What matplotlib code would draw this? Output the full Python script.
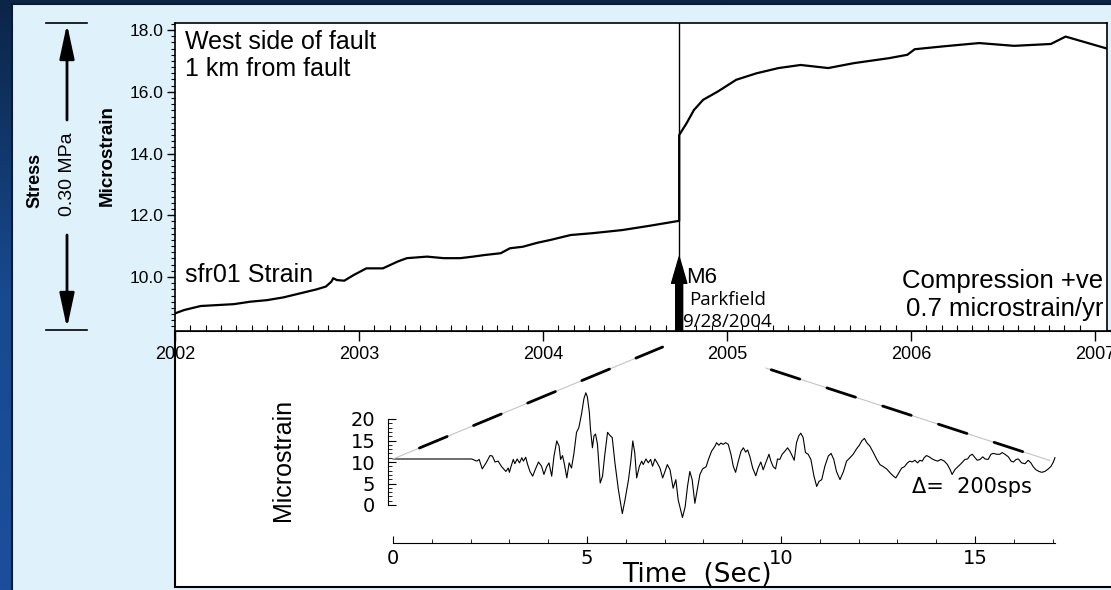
# Parkfield strain record - sfr01 strainmeter with M6 coseismic strain inset

import numpy as np
import matplotlib.pyplot as plt
from matplotlib.patches import Rectangle, ConnectionPatch
from matplotlib.lines import Line2D
from matplotlib.ticker import MultipleLocator, FixedLocator
from matplotlib.colors import LinearSegmentedColormap

plt.rcParams['font.family'] = ['Liberation Sans', 'DejaVu Sans']

# ---------- data ----------

strain_year = [2002.00, 2002.05, 2002.14, 2002.23, 2002.32, 2002.41, 2002.50, 2002.59,
               2002.68, 2002.77, 2002.82, 2002.85, 2002.86, 2002.88, 2002.92, 2002.97,
               2003.04, 2003.13, 2003.21, 2003.26, 2003.37, 2003.46, 2003.55, 2003.62,
               2003.68, 2003.77, 2003.82, 2003.89, 2003.97, 2004.04, 2004.15, 2004.27,
               2004.43, 2004.58, 2004.74, 2004.74, 2004.78, 2004.82, 2004.87, 2004.95,
               2005.05, 2005.16, 2005.28, 2005.40, 2005.55, 2005.69, 2005.88, 2005.98,
               2006.02, 2006.17, 2006.37, 2006.56, 2006.76, 2006.84, 2006.95, 2007.06]
strain_value = [8.82, 8.93, 9.06, 9.09, 9.12, 9.20, 9.25, 9.34,
                9.47, 9.60, 9.69, 9.85, 9.96, 9.90, 9.88, 10.06,
                10.28, 10.28, 10.50, 10.61, 10.66, 10.61, 10.61, 10.66,
                10.71, 10.77, 10.93, 10.98, 11.11, 11.20, 11.36, 11.42,
                11.52, 11.66, 11.82, 14.60, 14.98, 15.41, 15.74, 16.01,
                16.39, 16.60, 16.77, 16.87, 16.77, 16.93, 17.09, 17.20,
                17.38, 17.47, 17.58, 17.49, 17.55, 17.79, 17.60, 17.41]

quake_year = 2004.74
year_ticks = [2002, 2003, 2004, 2005, 2006, 2007]
strain_ticks = [10, 12, 14, 16, 18]

seis_time = [0.00, 2.03, 2.16, 2.22, 2.30, 2.40, 2.50, 2.56, 2.63, 2.71, 2.80, 2.91, 2.97,
             3.00, 3.04, 3.10, 3.14, 3.20, 3.26, 3.32, 3.36, 3.42, 3.47, 3.53, 3.60, 3.66,
             3.75, 3.83, 3.89, 3.96, 4.02, 4.09, 4.15, 4.22, 4.28, 4.32, 4.37, 4.42, 4.48,
             4.54, 4.60, 4.66, 4.73, 4.79, 4.86, 4.92, 4.97, 5.01, 5.06, 5.09, 5.14, 5.18,
             5.22, 5.27, 5.34, 5.40, 5.46, 5.53, 5.59, 5.65, 5.72, 5.81, 5.91, 5.98, 6.07,
             6.13, 6.18, 6.23, 6.28, 6.35, 6.41, 6.45, 6.52, 6.58, 6.64, 6.69, 6.75, 6.81,
             6.88, 6.95, 7.01, 7.07, 7.14, 7.22, 7.29, 7.35, 7.46, 7.53, 7.59, 7.65, 7.71,
             7.78, 7.84, 7.91, 7.98, 8.07, 8.13, 8.21, 8.30,
             8.34, 8.40, 8.45, 8.51, 8.57, 8.64, 8.71, 8.77, 8.83, 8.90, 8.97, 9.03, 9.09,
             9.14, 9.20, 9.27, 9.35, 9.41, 9.48, 9.54, 9.63, 9.69, 9.74, 9.80, 9.86, 9.91,
             9.97, 10.03, 10.10, 10.17, 10.23, 10.29, 10.34, 10.40, 10.46, 10.51, 10.57,
             10.63, 10.70, 10.77, 10.85, 10.92, 10.98, 11.05, 11.13, 11.22, 11.29, 11.36,
             11.43, 11.52, 11.61, 11.69, 11.78, 11.86, 11.95, 12.02, 12.08, 12.15, 12.21,
             12.29, 12.38, 12.47, 12.55, 12.64, 12.72, 12.81, 12.90, 12.96, 13.04, 13.11,
             13.18, 13.26, 13.32, 13.38, 13.45, 13.52, 13.58, 13.64, 13.69, 13.75, 13.82,
             13.90, 13.97, 14.04, 14.12, 14.21, 14.29, 14.36, 14.41, 14.48, 14.57, 14.66,
             14.74, 14.81, 14.87, 14.93, 15.00, 15.06, 15.13, 15.20, 15.26, 15.34, 15.41,
             15.47, 15.56, 15.64, 15.70, 15.77, 15.86, 15.93, 15.99, 16.06, 16.12, 16.20,
             16.29, 16.37, 16.44, 16.50, 16.57, 16.65, 16.72, 16.80, 16.89, 16.96, 17.02,
             17.06]
seis_value = [10.7, 10.7, 10.2, 10.6, 8.4, 9.8, 11.5, 11.4, 10.0, 10.2, 8.9, 7.8, 8.6,
              7.6, 8.9, 10.6, 9.6, 10.7, 9.8, 11.0, 10.2, 11.1, 9.4, 7.8, 6.7, 8.1,
              10.0, 9.0, 7.1, 8.9, 9.8, 6.7, 11.4, 14.9, 13.7, 10.6, 11.5, 9.4, 6.3,
              9.8, 8.6, 11.8, 16.9, 18.0, 21.2, 24.7, 26.1, 25.1, 21.6, 17.6, 13.3, 16.1,
              16.5, 14.1, 5.1, 6.7, 11.8, 16.9, 16.2, 15.7, 9.8, 3.5, -2.0, 1.2, 5.9,
              10.2, 14.9, 12.2, 6.3, 9.0, 10.2, 9.4, 10.7, 9.8, 10.6, 9.0, 10.7, 9.8,
              8.6, 6.3, 7.8, 9.4, 8.2, 3.9, 5.9, 1.2, -2.9, -0.4, 4.3, 7.8, 5.9,
              0.4, 3.5, 7.1, 8.4, 8.9, 10.6, 12.5, 13.7,
              14.5, 13.9, 14.4, 14.1, 14.5, 14.1, 11.8, 9.0, 7.6, 10.2, 12.5, 13.3, 12.3,
              12.8, 11.2, 8.6, 6.8, 8.6, 10.0, 8.2, 10.4, 11.8, 10.2, 8.9, 8.4, 10.7,
              10.6, 11.8, 12.5, 13.3, 12.5, 11.4, 10.4, 14.5, 16.1, 16.7, 15.7,
              12.2, 11.8, 10.6, 6.7, 4.3, 5.5, 5.9, 9.0, 11.4, 12.0, 10.6,
              7.8, 5.9, 7.8, 10.2, 11.0, 11.8, 13.1, 13.9, 14.9, 15.5, 14.5,
              13.7, 12.2, 10.6, 9.4, 8.9, 8.4, 7.5, 6.7, 6.3, 7.5, 8.6,
              8.9, 9.8, 10.2, 10.0, 10.4, 9.8, 10.4, 10.2, 11.0, 11.5, 11.2,
              10.7, 10.4, 10.2, 10.6, 10.2, 9.4, 8.2, 7.1, 8.2, 9.0, 9.8,
              10.6, 10.7, 11.5, 11.8, 11.0, 10.4, 10.6, 11.2, 10.7, 10.6, 11.8,
              12.0, 11.8, 11.8, 12.2, 11.8, 11.2, 10.2, 10.0, 10.6, 10.7, 9.8,
              9.6, 10.4, 9.8, 8.9, 8.2, 7.8, 7.6, 7.8, 8.4, 9.0, 10.0,
              11.0]

seis_yticks = [0, 5, 10, 15, 20]
seis_xticks = [0, 5, 10, 15]

# ---------- figure ----------

W, H = 1111, 590
fig = plt.figure(figsize=(W / 100, H / 100), dpi=100)


def box(x0, y0, x1, y1):
    # pixel box measured from the top-left corner -> figure fraction rect
    return [x0 / W, 1 - y1 / H, (x1 - x0) / W, (y1 - y0) / H]


# background, light panel and white box
bg = fig.add_axes([0, 0, 1, 1], zorder=-10)
bg_cmap = LinearSegmentedColormap.from_list('bg', ['#0b2547', '#184a90', '#1b4f9c'])
bg.imshow(np.linspace(0, 1, 200).reshape(-1, 1), aspect='auto', cmap=bg_cmap,
          extent=[0, 1, 0, 1])
bg.set_xlim(0, 1)
bg.set_ylim(0, 1)
bg.axis('off')
bg.add_patch(Rectangle((12 / W, -0.01), 1.0, 1.01 - 4 / H, facecolor='#dff1fb',
                       edgecolor='#0a1a30', lw=1.5))
bg.add_patch(Rectangle((175 / W, 1 - 587 / H), 1.0, (587 - 331) / H, facecolor='white',
                       edgecolor='black', lw=1.5))

# ---------- strain time series ----------

ax = fig.add_axes(box(175, 23, 1107, 331))
ax.set_facecolor('white')
ax.plot(strain_year, strain_value, color='black', lw=1.6)
ax.axvline(quake_year, color='black', lw=1.0)
ax.set_xlim(2002.0, 2007.065)
ax.set_ylim(8.25, 18.23)

ax.set_xticks(year_ticks)
ax.set_xticklabels([str(y) for y in year_ticks])
ax.xaxis.set_minor_locator(MultipleLocator(1 / 12))
ax.set_yticks(strain_ticks)
ax.set_yticklabels(['%.1f' % v for v in strain_ticks])
ax.yaxis.set_minor_locator(MultipleLocator(0.2))
ax.tick_params(axis='x', which='major', direction='out', length=7, width=1,
               labelsize=13, pad=4)
ax.tick_params(axis='x', which='minor', direction='in', length=4, width=0.8)
ax.tick_params(axis='y', which='major', direction='out', length=6, width=1,
               labelsize=12.5, pad=2)
ax.tick_params(axis='y', which='minor', direction='out', length=3, width=0.8)
for s in ax.spines.values():
    s.set_linewidth(1.2)

ax.text(0.011, 0.977, 'West side of fault\n1 km from fault', transform=ax.transAxes,
        fontsize=18, va='top', ha='left', linespacing=1.15)
ax.text(0.011, 0.159, 'sfr01 Strain', transform=ax.transAxes, fontsize=18,
        va='baseline', ha='left')
ax.text(0.9957, 0.140, 'Compression +ve', transform=ax.transAxes, fontsize=18.5,
        va='baseline', ha='right')
ax.text(0.9957, 0.049, '0.7 microstrain/yr', transform=ax.transAxes, fontsize=18.5,
        va='baseline', ha='right')

# earthquake arrow and labels
ax.annotate('', xy=(quake_year, 10.65), xytext=(quake_year, 8.25),
            arrowprops=dict(width=5, headwidth=11, headlength=19, facecolor='black',
                            edgecolor='black', shrink=0))
tx = ax.get_xaxis_transform()
ax.text(quake_year + 0.04, 0.156, 'M6', transform=tx, fontsize=16, va='baseline')
ax.text(quake_year + 0.055, 0.084, 'Parkfield', transform=tx, fontsize=13.5,
        va='baseline', family=['Open Sans', 'DejaVu Sans'])
ax.text(quake_year + 0.02, 0.013, '9/28/2004', transform=tx, fontsize=13.5,
        va='baseline', family=['Open Sans', 'DejaVu Sans'])

# ---------- left stress / strain scale ----------

fig.text(35 / W, 1 - 180 / H, 'Stress', rotation=90, fontsize=13, fontweight='bold',
         ha='center', va='center')
fig.text(67 / W, 1 - 174 / H, '0.30 MPa', rotation=90, fontsize=14,
         ha='center', va='center')
fig.text(107 / W, 1 - 156 / H, 'Microstrain', rotation=90, fontsize=13.5,
         fontweight='bold', ha='center', va='center')
for yb in (23, 330):
    bg.add_line(Line2D([46 / W, 87 / W], [1 - yb / H, 1 - yb / H], color='black', lw=1.2))
bg.annotate('', xy=(67 / W, 1 - 24 / H), xytext=(67 / W, 1 - 120 / H),
            arrowprops=dict(arrowstyle='-|>,head_length=1.4,head_width=0.3',
                            mutation_scale=15, lw=2, color='black',
                            shrinkA=0, shrinkB=0))
bg.annotate('', xy=(67 / W, 1 - 328 / H), xytext=(67 / W, 1 - 235 / H),
            arrowprops=dict(arrowstyle='-|>,head_length=1.4,head_width=0.3',
                            mutation_scale=15, lw=2, color='black',
                            shrinkA=0, shrinkB=0))

# ---------- coseismic strain seismogram ----------

ax2 = fig.add_axes(box(380, 380, 1060, 550))
ax2.patch.set_visible(False)
ax2.plot(seis_time, seis_value, color='black', lw=0.8)
ax2.set_xlim(-13 / 38.8, 667 / 38.8)
ax2.set_ylim(-45 / 4.3, 125 / 4.3)
ax2.spines['top'].set_visible(False)
ax2.spines['right'].set_visible(False)
ax2.spines['left'].set_position(('data', -0.13))
ax2.spines['left'].set_bounds(0, 20)
ax2.spines['bottom'].set_position(('data', -8.84))
ax2.spines['bottom'].set_bounds(0, 17.05)
ax2.set_yticks(seis_yticks)
ax2.set_xticks(seis_xticks)
ax2.yaxis.set_minor_locator(FixedLocator(list(range(0, 21))))
ax2.xaxis.set_minor_locator(FixedLocator(list(range(0, 18))))
ax2.tick_params(axis='y', which='major', direction='in', length=6, labelsize=14, pad=9)
ax2.tick_params(axis='y', which='minor', direction='in', length=3)
ax2.tick_params(axis='x', which='major', direction='in', length=5, labelsize=14, pad=4)
ax2.tick_params(axis='x', which='minor', direction='in', length=3)
for lab in ax2.get_xticklabels() + ax2.get_yticklabels():
    lab.set_family('DejaVu Sans')

ax2.text(13.38, 4.2, 'Δ=  200sps', fontsize=15, va='center', ha='left',
         family='DejaVu Sans')
fig.text(283 / W, 1 - 460 / H, 'Microstrain', rotation=90, fontsize=18,
         ha='center', va='center')
fig.text(697 / W, 1 - 575 / H, 'Time  (Sec)', fontsize=19, ha='center', va='center',
         family='DejaVu Sans')

# dashed zoom lines from the earthquake down to the record
zoom_ends = [((0.0, 10.7), (2004.65, -0.052)), ((16.93, 10.35), (2005.21, -0.12))]
for lower, upper in zoom_ends:
    for col, lw, ls in (('#c4c4c4', 0.8, '-'), ('black', 2.0, (10.8, (10.8, 10.3)))):
        con = ConnectionPatch(xyA=lower, coordsA=ax2.transData, xyB=upper,
                              coordsB=ax.get_xaxis_transform(), color=col, lw=lw,
                              linestyle=ls)
        fig.add_artist(con)

fig.savefig('out.png', dpi=100)
